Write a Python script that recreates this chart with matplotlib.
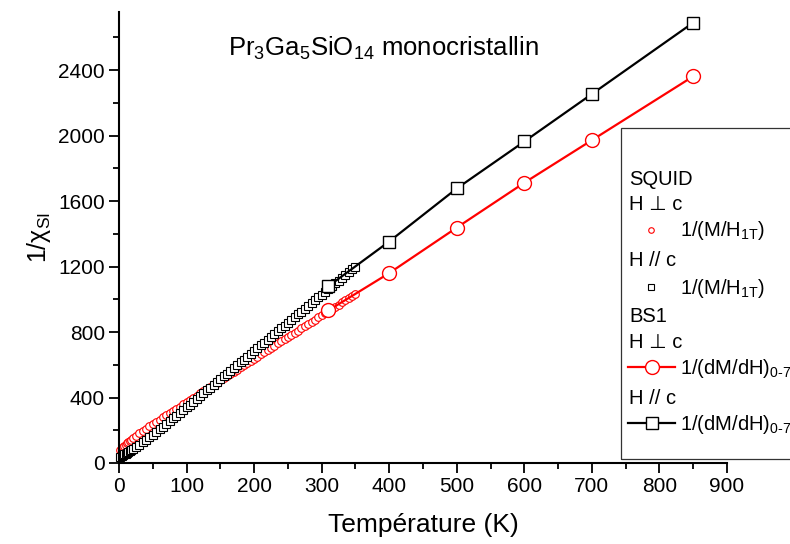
import numpy as np
import matplotlib
matplotlib.use("Agg")
import matplotlib.pyplot as plt
from matplotlib.lines import Line2D
from matplotlib.patches import Rectangle
from matplotlib.ticker import MultipleLocator

plt.rcParams['font.family'] = ['Liberation Sans', 'DejaVu Sans']
plt.rcParams['mathtext.fontset'] = 'custom'
plt.rcParams['mathtext.rm'] = 'Liberation Sans'
plt.rcParams['mathtext.it'] = 'Liberation Sans:italic'

# SQUID, H perp c : 1/(M/H_1T)
T_squid = [2, 4, 6, 8, 10, 12, 14, 16, 18, 20, 25, 30, 35, 40, 45, 50, 55, 60, 65, 70,
           75, 80, 85, 90, 95, 100, 105, 110, 115, 120, 125, 130, 135, 140, 145, 150,
           155, 160, 165, 170, 175, 180, 185, 190, 195, 200, 205, 210, 215, 220, 225,
           230, 235, 240, 245, 250, 255, 260, 265, 270, 275, 280, 285, 290, 295, 300,
           305, 310, 315, 320, 325, 330, 335, 340, 345, 350]
perp_squid = [78, 87, 96, 105, 113, 121, 129, 136, 143, 150, 166, 181, 196, 210, 224, 238,
              252, 265, 279, 292, 305, 318, 332, 345, 359, 372, 385, 399, 412, 425, 438,
              452, 465, 478, 491, 505, 518, 531, 544, 558, 571, 584, 597, 611, 624, 637,
              650, 664, 677, 690, 703, 717, 730, 743, 756, 770, 783, 796, 809, 823, 836,
              849, 862, 876, 889, 902, 915, 929, 942, 955, 968, 982, 995, 1008, 1021, 1035]
# SQUID, H // c
par_squid = [38, 43, 48, 53, 58, 63, 69, 74, 80, 85, 99, 113, 128, 143, 158, 174, 190, 206,
             222, 239, 255, 272, 289, 306, 323, 340, 357, 374, 392, 409, 426, 443, 460,
             478, 495, 512, 529, 546, 564, 581, 598, 615, 632, 650, 667, 684, 701, 718,
             736, 753, 770, 787, 804, 822, 839, 856, 873, 890, 908, 925, 942, 959, 976,
             994, 1011, 1028, 1045, 1062, 1080, 1097, 1114, 1131, 1148, 1166, 1183, 1200]

# BS1 : 1/(dM/dH)_0-7T
T_bs1 = [310, 400, 500, 600, 700, 850]
perp_bs1 = [932, 1160, 1438, 1712, 1972, 2362]
par_bs1 = [1080, 1353, 1677, 1964, 2254, 2690]

fig = plt.figure(figsize=(7.9, 5.44), dpi=100)
ax = fig.add_axes([119 / 790.0, 81 / 544.0, 608 / 790.0, 451 / 544.0])

ax.plot(T_squid, perp_squid, linestyle='none', marker='o', ms=5.5, mec='#ff0000',
        mfc='white', mew=0.8, clip_on=False)
ax.plot(T_squid, par_squid, linestyle='none', marker='s', ms=5.2, mec='black',
        mfc='white', mew=0.8, clip_on=False)
ax.plot(T_bs1, perp_bs1, '-', color='#ff0000', lw=1.6, marker='o', ms=10,
        mfc='white', mec='#ff0000', mew=1.0)
ax.plot(T_bs1, par_bs1, '-', color='black', lw=1.6, marker='s', ms=8,
        mfc='white', mec='black', mew=1.0)

ax.set_xlim(0, 900)
ax.set_ylim(0, 2755)
ax.spines['top'].set_visible(False)
ax.spines['right'].set_visible(False)
ax.spines['left'].set_linewidth(1.5)
ax.spines['bottom'].set_linewidth(1.5)
ax.xaxis.set_major_locator(MultipleLocator(100))
ax.xaxis.set_minor_locator(MultipleLocator(50))
ax.yaxis.set_major_locator(MultipleLocator(400))
ax.yaxis.set_minor_locator(MultipleLocator(200))
ax.tick_params(which='major', direction='out', length=7, width=1.3, labelsize=15, pad=3)
ax.tick_params(which='minor', direction='out', length=4, width=1.3)

ax.set_xlabel('Température (K)', fontsize=19, labelpad=12)
ax.set_ylabel('1/χ$_{\\mathrm{SI}}$', fontsize=18, labelpad=4)
ax.text(392, 2535, 'Pr$_{3}$Ga$_{5}$SiO$_{14}$ monocristallin', fontsize=18.5,
        ha='center', va='center')

# legende faite a la main (la boite depasse a droite)
def px(x, y):
    return x / 790.0, 1 - y / 544.0

x0, y0 = px(621, 459)
fig.patches.append(Rectangle((x0, y0), 0.3, (459 - 128) / 544.0, transform=fig.transFigure,
                             fill=False, edgecolor='#333333', lw=0.9))

fs = 14.5
for txt, y in [('SQUID', 180), ('H ⊥ c', 205), ('H // c', 261), ('BS1', 317),
               ('H ⊥ c', 343), ('H // c', 398)]:
    fig.text(*px(629, y), txt, fontsize=fs, va='center', ha='left')
for txt, y in [('1/(M/H$_{\\mathrm{1T}}$)', 231), ('1/(M/H$_{\\mathrm{1T}}$)', 288),
               ('1/(dM/dH)$_{\\mathrm{0\u20107T}}$', 368), ('1/(dM/dH)$_{\\mathrm{0\u20107T}}$', 424)]:
    fig.text(*px(680, y), txt, fontsize=fs, va='center', ha='left')

fig.add_artist(Line2D([651 / 790.0], [1 - 230 / 544.0], transform=fig.transFigure,
                      linestyle='none', marker='o', ms=4, mec='#ff0000', mfc='white', mew=0.8))
fig.add_artist(Line2D([651 / 790.0], [1 - 287 / 544.0], transform=fig.transFigure,
                      linestyle='none', marker='s', ms=4, mec='black', mfc='white', mew=0.8))
fig.add_artist(Line2D([628 / 790.0, 675 / 790.0], [1 - 367 / 544.0] * 2, transform=fig.transFigure,
                      color='#ff0000', lw=1.6))
fig.add_artist(Line2D([652 / 790.0], [1 - 367 / 544.0], transform=fig.transFigure,
                      linestyle='none', marker='o', ms=10, mec='#ff0000', mfc='white', mew=1.0))
fig.add_artist(Line2D([628 / 790.0, 675 / 790.0], [1 - 423 / 544.0] * 2, transform=fig.transFigure,
                      color='black', lw=1.6))
fig.add_artist(Line2D([652 / 790.0], [1 - 423 / 544.0], transform=fig.transFigure,
                      linestyle='none', marker='s', ms=8, mec='black', mfc='white', mew=1.0))

fig.savefig('out.png', dpi=100)
